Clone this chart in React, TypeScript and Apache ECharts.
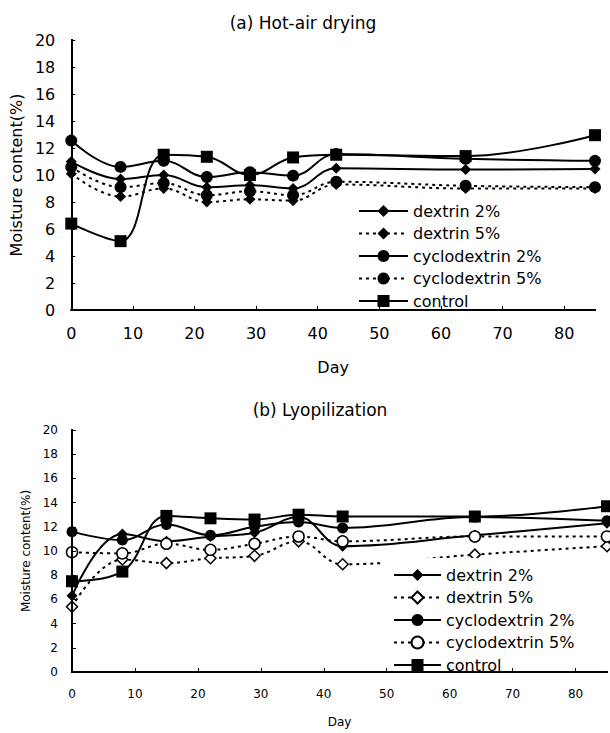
import React, { useEffect, useRef } from "react";
import * as echarts from "echarts";

const days = [0, 8, 15, 22, 29, 36, 43, 64, 85];
const seriesNames = ["dextrin 2%", "dextrin 5%", "cyclodextrin 2%", "cyclodextrin 5%", "control"];

// (a) Hot-air drying
const hotDextrin2 = [11.0, 9.7, 10.0, 9.1, 9.25, 9.0, 10.5, 10.4, 10.45];
const hotDextrin5 = [10.1, 8.4, 9.0, 8.0, 8.2, 8.1, 9.3, 9.0, 9.0];
const hotCyclo2 = [12.55, 10.6, 11.05, 9.85, 10.2, 9.95, 11.55, 11.2, 11.05];
const hotCyclo5 = [10.6, 9.1, 9.4, 8.5, 8.8, 8.5, 9.5, 9.2, 9.1];
const hotControl = [6.4, 5.1, 11.5, 11.35, 10.0, 11.3, 11.5, 11.4, 12.95];

// (b) Lyophilization
const lyoDextrin2 = [6.3, 11.4, 10.8, 11.2, 11.5, 12.8, 10.4, 11.3, 12.3];
const lyoDextrin5 = [5.4, 9.3, 9.0, 9.4, 9.6, 10.8, 8.9, 9.7, 10.4];
const lyoCyclo2 = [11.6, 10.9, 12.2, 11.3, 12.0, 12.4, 11.9, 12.8, 12.5];
const lyoCyclo5 = [9.9, 9.8, 10.6, 10.1, 10.6, 11.2, 10.8, 11.2, 11.2];
const lyoControl = [7.5, 8.3, 12.9, 12.7, 12.6, 13.0, 12.85, 12.85, 13.7];

const FONT = "DejaVu Sans";

type Spec = { symbol: string; size: number; dotted: boolean; open: boolean };

function buildSeries(values: number[][], specs: Spec[]) {
  return values.map((vals, i) => {
    const s = specs[i];
    return {
      name: seriesNames[i],
      type: "line",
      smooth: 0.4,
      xAxisIndex: 0,
      yAxisIndex: 0,
      data: days.map((d, k) => [d, vals[k]]),
      symbol: s.symbol,
      symbolSize: s.size,
      lineStyle: { color: "#000", width: 2, type: s.dotted ? [3, 4] : "solid" },
      itemStyle: s.open
        ? { color: "#fff", borderColor: "#000", borderWidth: 1.5 }
        : { color: "#000", borderColor: "#000", borderWidth: 0 },
    };
  });
}

const frameLine = { show: true, lineStyle: { color: "#000", width: 2 } };

function makeOption(cfg: any) {
  return {
    animation: false,
    title: {
      text: cfg.title,
      left: cfg.titleX,
      top: cfg.titleY,
      textAlign: "center",
      textStyle: { fontFamily: FONT, fontSize: cfg.titleSize, fontWeight: "normal", color: "#000" },
    },
    grid: {
      left: cfg.left,
      top: cfg.top,
      width: cfg.width,
      height: cfg.height,
      show: false,
    },
    xAxis: [
      {
        type: "value",
        min: 0,
        max: 85,
        interval: 10,
        z: 10,
        name: "Day",
        nameLocation: "middle",
        nameGap: cfg.xNameGap,
        nameTextStyle: { fontFamily: FONT, fontSize: cfg.nameSize, color: "#000" },
        axisLine: frameLine,
        axisTick: { show: true, inside: true, length: 4, lineStyle: { color: "#000", width: 1 } },
        axisLabel: { fontFamily: FONT, fontSize: cfg.labelSize, color: "#000", margin: cfg.xLabelMargin, showMaxLabel: false },
        splitLine: { show: false },
      },
      {
        type: "value",
        position: "top",
        min: 0,
        max: 85,
        interval: 10,
        z: 10,
        axisLine: frameLine,
        axisTick: { show: false },
        axisLabel: { show: false },
        splitLine: { show: false },
      },
    ],
    yAxis: [
      {
        type: "value",
        min: 0,
        max: 20,
        interval: 2,
        z: 10,
        name: "Moisture content(%)",
        nameLocation: "middle",
        nameGap: cfg.yNameGap,
        nameTextStyle: { fontFamily: FONT, fontSize: cfg.nameSize, color: "#000" },
        axisLine: frameLine,
        axisTick: { show: true, inside: true, length: 4, lineStyle: { color: "#000", width: 1 } },
        axisLabel: { fontFamily: FONT, fontSize: cfg.labelSize, color: "#000", margin: cfg.yLabelMargin },
        splitLine: { show: false },
      },
      {
        type: "value",
        position: "right",
        min: 0,
        max: 20,
        interval: 2,
        z: 10,
        axisLine: frameLine,
        axisTick: { show: false },
        axisLabel: { show: false },
        splitLine: { show: false },
      },
    ],
    legend: {
      orient: "vertical",
      left: cfg.legendLeft,
      top: cfg.legendTop,
      padding: cfg.legendPadding,
      backgroundColor: cfg.legendBg,
      itemWidth: cfg.legendItemWidth,
      itemHeight: 15,
      itemGap: 4.5,
      data: seriesNames,
      textStyle: { fontFamily: FONT, fontSize: 16, color: "#000", lineHeight: 18 },
    },
    series: cfg.series,
  };
}

function Chart({ option, style }: { option: any; style: React.CSSProperties }) {
  const ref = useRef<HTMLDivElement>(null);
  useEffect(() => {
    if (!ref.current) return;
    const chart = echarts.init(ref.current, undefined, { renderer: "svg" });
    chart.setOption(option);
    return () => chart.dispose();
  }, [option]);
  return <div ref={ref} style={style} />;
}

const hotSpecs: Spec[] = [
  { symbol: "diamond", size: 11, dotted: false, open: false },
  { symbol: "diamond", size: 11, dotted: true, open: false },
  { symbol: "circle", size: 12, dotted: false, open: false },
  { symbol: "circle", size: 12, dotted: true, open: false },
  { symbol: "rect", size: 12, dotted: false, open: false },
];
const lyoSpecs: Spec[] = [
  { symbol: "diamond", size: 11, dotted: false, open: false },
  { symbol: "diamond", size: 11, dotted: true, open: true },
  { symbol: "circle", size: 11, dotted: false, open: false },
  { symbol: "circle", size: 11, dotted: true, open: true },
  { symbol: "rect", size: 12, dotted: false, open: false },
];

const topOption = makeOption({
  title: "(a) Hot-air drying",
  titleX: 298,
  titleY: 9,
  titleSize: 17,
  left: 70,
  top: 40,
  width: 525,
  height: 277,
  labelSize: 16,
  nameSize: 16,
  xLabelMargin: 15,
  yLabelMargin: 16,
  xNameGap: 49,
  yNameGap: 46,
  legendLeft: 358,
  legendTop: 202,
  legendPadding: 0,
  legendBg: "transparent",
  legendItemWidth: 49,
  series: buildSeries([hotDextrin2, hotDextrin5, hotCyclo2, hotCyclo5, hotControl], hotSpecs),
});

const bottomOption = makeOption({
  title: "(b) Lyopilization",
  titleX: 315,
  titleY: 16,
  titleSize: 17,
  left: 72,
  top: 50,
  width: 535,
  height: 249,
  labelSize: 12,
  nameSize: 12,
  xLabelMargin: 16,
  yLabelMargin: 14,
  xNameGap: 44,
  yNameGap: 35,
  legendLeft: 383,
  legendTop: 178,
  legendPadding: [8, 10, 2, 10],
  legendBg: "#fff",
  legendItemWidth: 47,
  series: buildSeries([lyoDextrin2, lyoDextrin5, lyoCyclo2, lyoCyclo5, lyoControl], lyoSpecs),
});

export default function App() {
  return (
    <div style={{ position: "absolute", left: 0, top: 0, width: 610, height: 733, background: "#fff" }}>
      <Chart option={topOption} style={{ position: "absolute", left: 0, top: 0, width: 610, height: 380 }} />
      <Chart option={bottomOption} style={{ position: "absolute", left: 0, top: 380, width: 610, height: 353 }} />
    </div>
  );
}
